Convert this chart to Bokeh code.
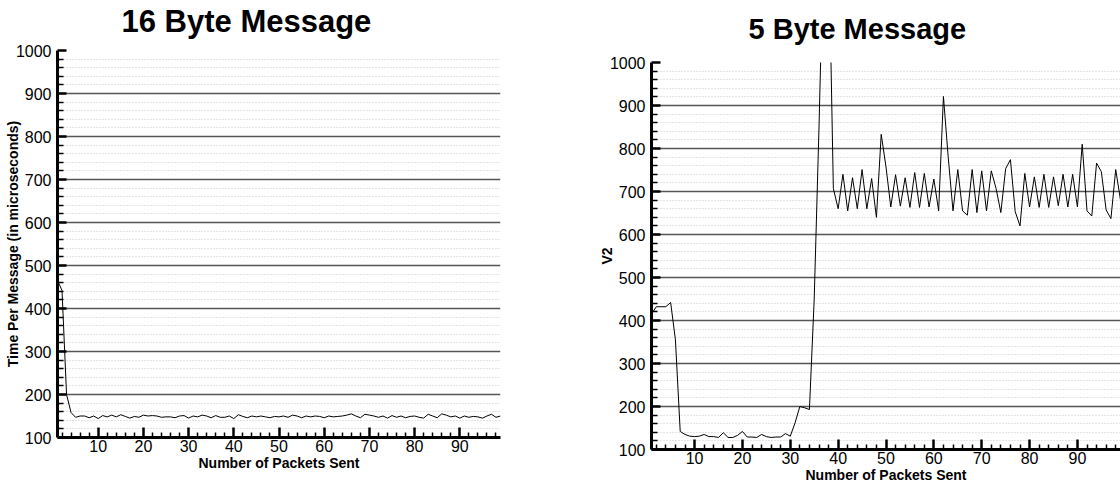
from bokeh.plotting import figure
from bokeh.layouts import row, column
from bokeh.models import Range1d, FixedTicker, Title
from bokeh.embed import file_html
from bokeh.resources import INLINE

# ---------------- data ----------------
packets = list(range(1, 100))

time_16_byte = [465, 442, 200, 158, 147, 150, 150, 146, 150, 144,
                151, 148, 152, 148, 153, 149, 145, 149, 147, 152,
                150, 151, 150, 147, 148, 148, 146, 150, 151, 145,
                150, 148, 152, 150, 146, 151, 147, 147, 150, 144,
                153, 149, 146, 150, 148, 150, 148, 146, 149, 148,
                150, 147, 152, 150, 146, 150, 148, 150, 149, 146,
                150, 148, 149, 150, 152, 155, 150, 146, 154, 152,
                150, 147, 150, 145, 151, 147, 150, 146, 149, 150,
                147, 145, 154, 150, 146, 155, 152, 148, 150, 145,
                150, 147, 149, 148, 145, 150, 154, 147, 150]

time_5_byte = [415, 432, 432, 432, 442, 355, 142, 135, 131, 130,
               131, 135, 130, 130, 128, 139, 128, 128, 133, 142,
               129, 129, 128, 135, 130, 128, 129, 129, 137, 131,
               162, 200, 197, 193, 450, 850, 1300, 1300, 707, 660,
               740, 655, 732, 660, 751, 660, 730, 640, 833, 757,
               664, 739, 666, 732, 663, 744, 663, 742, 664, 729,
               655, 921, 780, 655, 751, 655, 645, 751, 651, 748,
               655, 748, 707, 651, 753, 774, 653, 620, 742, 664,
               734, 663, 740, 663, 734, 667, 740, 664, 740, 664,
               810, 655, 643, 766, 746, 657, 637, 751, 680]

y_ticks = list(range(100, 1001, 100))
y_minor = [v for v in range(100, 1001, 20) if v % 100]
x_ticks = list(range(10, 100, 10))
x_minor = [v for v in range(2, 99, 2) if v % 10]

FONT = "Liberation Sans"


def make_chart(title, ylabel, ys, width, height, bl, br, bt, bb,
               toff, tstand, tsize):
    p = figure(width=width, height=height,
               x_range=Range1d(1, 99), y_range=Range1d(100, 1000),
               output_backend="svg", toolbar_location=None,
               min_border_left=bl, min_border_right=br,
               min_border_top=bt, min_border_bottom=bb)
    p.outline_line_color = None
    p.background_fill_color = "white"
    p.border_fill_color = "white"

    # small blank band between plot area and title
    p.add_layout(Title(text=" ", text_font_size="4px", standoff=2), "above")

    p.title.text = title
    p.title.text_font = FONT
    p.title.text_font_size = tsize
    p.title.text_font_style = "bold"
    p.title.text_color = "black"
    p.title.align = "left"
    p.title.vertical_align = "top"
    p.title.offset = toff
    p.title.standoff = tstand

    p.line(packets, ys, line_color="black", line_width=1)

    # x axis
    xa = p.xaxis[0]
    xa.ticker = FixedTicker(ticks=x_ticks, minor_ticks=x_minor)
    xa.axis_label = "Number of Packets Sent"
    xa.axis_label_text_font = FONT
    xa.axis_label_text_font_size = "14px"
    xa.axis_label_text_font_style = "bold"
    xa.axis_label_text_color = "black"
    xa.axis_label_standoff = 0
    xa.axis_label_text_line_height = 1.0
    xa.major_label_text_font = FONT
    xa.major_label_text_font_size = "16px"
    xa.major_label_text_color = "black"
    xa.major_label_standoff = 2
    xa.major_label_text_line_height = 1.0
    xa.axis_line_width = 3
    xa.axis_line_color = "black"
    xa.major_tick_in = 10
    xa.major_tick_out = 0
    xa.major_tick_line_width = 2.5
    xa.major_tick_line_color = "black"
    xa.minor_tick_in = 5
    xa.minor_tick_out = 0
    xa.minor_tick_line_width = 1.5
    xa.minor_tick_line_color = "black"

    # y axis
    ya = p.yaxis[0]
    ya.ticker = FixedTicker(ticks=y_ticks, minor_ticks=y_minor)
    ya.axis_label = ylabel
    ya.axis_label_text_font = FONT
    ya.axis_label_text_font_size = "14px"
    ya.axis_label_text_font_style = "bold"
    ya.axis_label_text_color = "black"
    ya.axis_label_standoff = -8
    ya.axis_label_text_line_height = 1.0
    ya.major_label_text_font = FONT
    ya.major_label_text_font_size = "16px"
    ya.major_label_text_color = "black"
    ya.major_label_standoff = 6
    ya.axis_line_width = 3
    ya.axis_line_color = "black"
    ya.major_tick_in = 9
    ya.major_tick_out = 0
    ya.major_tick_line_width = 2.5
    ya.major_tick_line_color = "black"
    ya.minor_tick_in = 6
    ya.minor_tick_out = 0
    ya.minor_tick_line_width = 1.5
    ya.minor_tick_line_color = "black"

    p.xgrid.visible = False
    p.ygrid.grid_line_color = "#555555"
    p.ygrid.grid_line_width = 1.3
    p.ygrid.minor_grid_line_color = "#c8c8c8"
    p.ygrid.minor_grid_line_dash = "1 2"
    p.ygrid.minor_grid_line_width = 1
    return p


left = make_chart("16 Byte Message", "Time Per Message (in microseconds)",
                  time_16_byte, 595, 485, 57, 95, 50, 48, 64, 2, "31px")
right = make_chart("5 Byte Message", "V2",
                   time_5_byte, 525, 485, 56, 0, 62, 35, 97, 14, "29px")

layout = row(column(left), column(right))
open("out.html", "w").write(file_html(layout, INLINE))
